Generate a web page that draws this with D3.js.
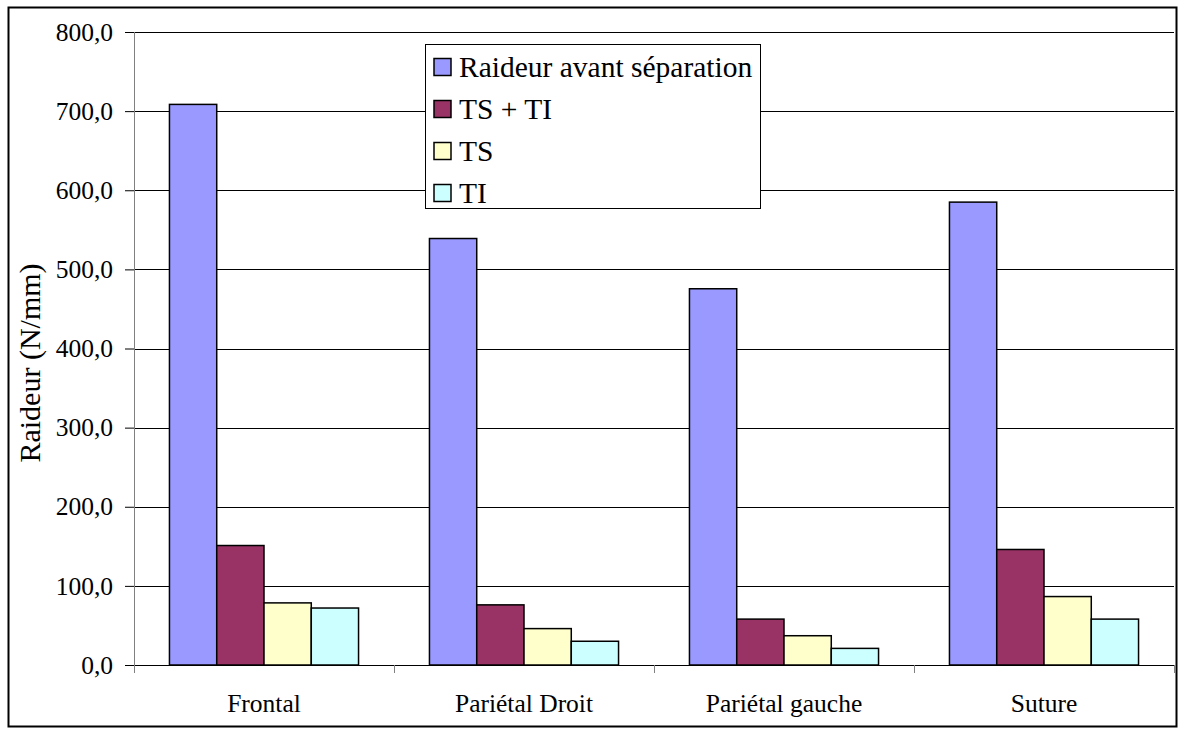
<!DOCTYPE html>
<html>
<head>
<meta charset="utf-8">
<script src="https://cdn.jsdelivr.net/npm/d3@7"></script>
<style>
  body { margin: 0; background: #fff; }
</style>
</head>
<body>
<div id="chart"></div>
<script>
var categories = ['Frontal', 'Pariétal Droit', 'Pariétal gauche', 'Suture'];
var series = ['Raideur avant séparation', 'TS + TI', 'TS', 'TI'];
var raideur_avant = [708.5, 539, 475.5, 585];
var ts_ti = [151, 76, 58, 146];
var ts = [78.5, 46, 37, 86.5];
var ti = [72, 30, 21, 58];
var y_ticks = [0, 100, 200, 300, 400, 500, 600, 700, 800];
var colors = ['#9999FF', '#993366', '#FFFFCC', '#CCFFFF'];

var values = [raideur_avant, ts_ti, ts, ti];

var chart_width = 1184;
var chart_height = 735;
var plot_left = 134, plot_right = 1174, plot_top = 32, plot_bottom = 665;
var font = 'Liberation Serif';

// create svg element
var svg = d3.select('#chart')
  .append('svg')
  .attr('width', chart_width)
  .attr('height', chart_height);

// outer frame
svg.append('rect')
  .attr('x', 8.5)
  .attr('y', 7.5)
  .attr('width', 1168)
  .attr('height', 719)
  .attr('fill', '#fff')
  .attr('stroke', '#000')
  .attr('stroke-width', 2);

// scales
var gap = 1.5 / 5.5;
var x0 = d3.scaleBand()
  .domain(categories)
  .range([plot_left, plot_right])
  .paddingInner(gap)
  .paddingOuter(gap / 2);

var x1 = d3.scaleBand()
  .domain(series)
  .range([0, x0.bandwidth()]);

var y = d3.scaleLinear()
  .domain([0, 800])
  .range([plot_bottom, plot_top]);

// gridlines
svg.append('g')
  .selectAll('line')
  .data(y_ticks.slice(1))
  .enter()
  .append('line')
  .attr('x1', plot_left)
  .attr('x2', plot_right)
  .attr('y1', (d) => Math.round(y(d)) + 0.5)
  .attr('y2', (d) => Math.round(y(d)) + 0.5)
  .attr('stroke', '#000')
  .attr('stroke-width', 1);

// bars
var bar_data = [];
categories.forEach(function(c, i) {
  series.forEach(function(s, j) {
    bar_data.push({ c: c, s: s, v: values[j][i], color: colors[j] });
  });
});

svg.append('g')
  .selectAll('rect')
  .data(bar_data)
  .enter()
  .append('rect')
  .attr('x', (d) => x0(d.c) + x1(d.s))
  .attr('y', (d) => y(d.v))
  .attr('width', x1.bandwidth())
  .attr('height', (d) => y(0) - y(d.v))
  .attr('fill', (d) => d.color)
  .attr('stroke', '#000')
  .attr('stroke-width', 1.5);

// y axis
var y_axis = d3.axisLeft(y)
  .tickValues(y_ticks)
  .tickSize(9)
  .tickPadding(12)
  .tickFormat((d) => d.toFixed(1).replace('.', ','));

svg.append('g')
  .attr('id', 'y_axis')
  .attr('transform', 'translate(' + plot_left + ',0)')
  .call(y_axis)
  .call((g) => g.select('.domain').remove());

svg.selectAll('#y_axis line').attr('stroke', '#000');
svg.selectAll('#y_axis text')
  .attr('fill', '#000')
  .attr('font-family', font)
  .attr('font-size', 25.5);

svg.append('line')
  .attr('x1', plot_left + 0.5).attr('x2', plot_left + 0.5)
  .attr('y1', plot_top).attr('y2', plot_bottom + 8)
  .attr('stroke', '#808080');

// x axis
var step = x0.step();
svg.append('line')
  .attr('x1', plot_left).attr('x2', plot_right)
  .attr('y1', plot_bottom + 0.5).attr('y2', plot_bottom + 0.5)
  .attr('stroke', '#000');

svg.append('g')
  .selectAll('line')
  .data(d3.range(categories.length + 1))
  .enter()
  .append('line')
  .attr('x1', (d) => Math.round(plot_left + d * step) + 0.5)
  .attr('x2', (d) => Math.round(plot_left + d * step) + 0.5)
  .attr('y1', plot_bottom)
  .attr('y2', plot_bottom + 8)
  .attr('stroke', '#808080');

svg.append('g')
  .selectAll('text')
  .data(categories)
  .enter()
  .append('text')
  .attr('x', (d) => x0(d) + x0.bandwidth() / 2)
  .attr('y', 712)
  .attr('text-anchor', 'middle')
  .attr('font-family', font)
  .attr('font-size', 25.5)
  .text((d) => d);

// y label
svg.append('text')
  .attr('transform', 'translate(40,363) rotate(-90)')
  .attr('text-anchor', 'middle')
  .attr('font-family', font)
  .attr('font-size', 30)
  .text('Raideur (N/mm)');

// legend
svg.append('rect')
  .attr('x', 425.5).attr('y', 44.5)
  .attr('width', 335).attr('height', 164)
  .attr('fill', '#fff')
  .attr('stroke', '#000');

svg.append('g')
  .selectAll('rect')
  .data(series)
  .enter()
  .append('rect')
  .attr('x', 434)
  .attr('y', (d, i) => 58.5 + i * 42)
  .attr('width', 17).attr('height', 17)
  .attr('fill', (d, i) => colors[i])
  .attr('stroke', '#000')
  .attr('stroke-width', 1.5);

svg.append('g')
  .selectAll('text')
  .data(series)
  .enter()
  .append('text')
  .attr('x', 459)
  .attr('y', (d, i) => 77 + i * 42)
  .attr('font-family', font)
  .attr('font-size', 29.5)
  .text((d) => d);
</script>
</body>
</html>
